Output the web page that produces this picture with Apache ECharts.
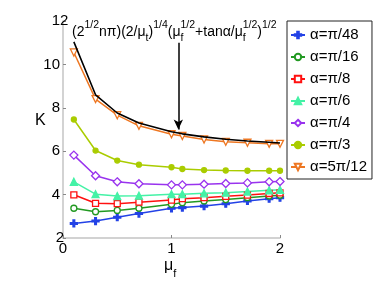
<!DOCTYPE html>
<html><head><meta charset="utf-8">
<script src="https://cdn.jsdelivr.net/npm/echarts@6/dist/echarts.min.js"></script>
<style>html,body{margin:0;padding:0;background:#fff}#c{width:388px;height:283px}</style>
</head><body><div id="c"></div>
<script>
var mu = [0.1, 0.3, 0.5, 0.7, 1.0, 1.1, 1.3, 1.5, 1.7, 1.9, 2.0];
var names = ['α=π/48', 'α=π/16', 'α=π/8', 'α=π/6', 'α=π/4', 'α=π/3', 'α=5π/12'];
var a48  = [2.67, 2.78, 2.96, 3.13, 3.37, 3.40, 3.47, 3.58, 3.71, 3.81, 3.86];
var a16  = [3.37, 3.21, 3.27, 3.37, 3.55, 3.63, 3.71, 3.77, 3.86, 3.94, 3.97];
var a8   = [3.99, 3.60, 3.58, 3.65, 3.75, 3.81, 3.86, 3.92, 3.98, 4.05, 4.08];
var a6   = [4.59, 4.02, 3.93, 3.95, 4.02, 4.02, 4.06, 4.09, 4.14, 4.20, 4.22];
var a4   = [5.82, 4.87, 4.59, 4.50, 4.45, 4.45, 4.48, 4.51, 4.54, 4.59, 4.60];
var a3   = [7.46, 6.03, 5.57, 5.38, 5.26, 5.18, 5.13, 5.11, 5.10, 5.10, 5.10];
var a512 = [10.55, 8.40, 7.66, 7.17, 6.78, 6.70, 6.54, 6.43, 6.39, 6.34, 6.34];
var approx = [11.04, 8.60, 7.76, 7.30, 6.90, 6.80, 6.66, 6.55, 6.47, 6.41, 6.38];
var arrowMu = 1.063, arrowFrom = 11.0, arrowTo = 7.0;
var xTicks = [0, 1, 2];
var yTicks = [2, 4, 6, 8, 10, 12];

var font = '"Liberation Sans", Arial, sans-serif';
function pairs(ys) { return mu.map(function (m, i) { return [m, ys[i]]; }); }
var plus = 'path://M3,0h2v3h3v2h-3v3h-2v-3h-3v-2h3z';
var styles = [
  { c: '#2342e6', s: plus, size: 7, fill: '#2342e6' },
  { c: '#229922', s: 'circle', size: 6, fill: '#fff' },
  { c: '#ff1010', s: 'rect', size: 6, fill: '#fff' },
  { c: '#44f2a6', s: 'triangle', size: 7, fill: '#44f2a6' },
  { c: '#9933ee', s: 'diamond', size: 8, fill: '#fff' },
  { c: '#aacc00', s: 'circle', size: 5, fill: '#aacc00' },
  { c: '#ee7722', s: 'path://M0,0L10,0L5,9z', size: 7, fill: '#fff' }
];
var datasets = [a48, a16, a8, a6, a4, a3, a512];
var series = datasets.map(function (d, i) {
  var st = styles[i];
  return {
    name: names[i], type: 'line', data: pairs(d), symbol: st.s, symbolSize: st.size,
    showAllSymbol: true,
    lineStyle: { color: st.c, width: 1.5 },
    itemStyle: { color: st.fill, borderColor: st.c, borderWidth: 1.3 },
    emphasis: { disabled: true }, z: 3
  };
});
series.push({
  name: 'approx', type: 'line', data: pairs(approx), symbol: 'none',
  lineStyle: { color: '#000', width: 1.6 }, z: 4,
  markLine: {
    silent: true, symbol: ['none', 'arrow'], symbolSize: [7, 10],
    lineStyle: { color: '#000', width: 1.5, type: 'solid' }, label: { show: false },
    data: [[{ coord: [arrowMu, arrowFrom] }, { coord: [arrowMu, arrowTo] }]]
  }
});

var chart = echarts.init(document.getElementById('c'), null, { renderer: 'canvas' });
chart.setOption({
  animation: false,
  backgroundColor: '#fff',
  textStyle: { fontFamily: font },
  grid: { left: 63, right: 108, top: 21, bottom: 45, outerBoundsMode: 'none' },
  xAxis: {
    type: 'value', min: xTicks[0], max: xTicks[xTicks.length - 1], interval: 1,
    axisLine: { lineStyle: { color: '#c4c4c4', width: 1.5 } },
    axisTick: { inside: true, length: 3, lineStyle: { color: '#888' } },
    axisLabel: { color: '#000', fontSize: 15, margin: 3, fontFamily: font, showMinLabel: true, showMaxLabel: true, hideOverlap: false },
    splitLine: { show: false }
  },
  yAxis: {
    type: 'value', min: yTicks[0], max: yTicks[yTicks.length - 1], interval: 2,
    axisLine: { show: true, lineStyle: { color: '#c4c4c4', width: 1.5 } },
    axisTick: { show: true, inside: true, length: 3, lineStyle: { color: '#888' } },
    axisLabel: { color: '#000', fontSize: 15, margin: 3, fontFamily: font, showMinLabel: true, showMaxLabel: true, hideOverlap: false, alignMaxLabel: 'center', alignMinLabel: 'center' },
    splitLine: { show: false }
  },
  legend: {
    data: names, orient: 'vertical', left: 287, top: 21,
    padding: [6, 5, 4, 3], itemGap: 6, itemWidth: 14, itemHeight: 8,
    backgroundColor: '#fff', borderColor: '#222', borderWidth: 1,
    textStyle: { fontSize: 15, color: '#000', fontFamily: font, lineHeight: 16 },
    selectedMode: false
  },
  graphic: [
    { type: 'text', left: 35, top: 113, style: { text: 'K', fontSize: 16, fill: '#000', fontFamily: font } },
    { type: 'text', left: 164, top: 258, style: {
        text: '{m|μ}{s|f}', fill: '#000', fontFamily: font,
        rich: { m: { fontSize: 16, fontFamily: font, lineHeight: 16 },
                s: { fontSize: 11, fontFamily: font, verticalAlign: 'bottom', padding: [0, 0, -5, 0] } } } },
    { type: 'text', left: 72, top: 20, z: 10, style: {
        text: '{n|(2}{p|1/2}{n|nπ)(2/μ}{b|t}{n|)}{p|1/4}{n|(μ}{bz|f}{p|1/2}{n|+tanα/μ}{bz|f}{p|1/2}{n|)}{p|1/2}',
        fill: '#000', fontFamily: font,
        rich: {
          n: { fontSize: 14, fontFamily: font, lineHeight: 24, verticalAlign: 'middle' },
          p: { fontSize: 10.5, fontFamily: font, verticalAlign: 'top', lineHeight: 10 },
          b: { fontSize: 10.5, fontFamily: font, verticalAlign: 'bottom', lineHeight: 10 },
          bz: { fontSize: 10.5, fontFamily: font, verticalAlign: 'bottom', lineHeight: 10, width: 0.01 }
        } } }
  ],
  series: series
});
</script></body></html>
